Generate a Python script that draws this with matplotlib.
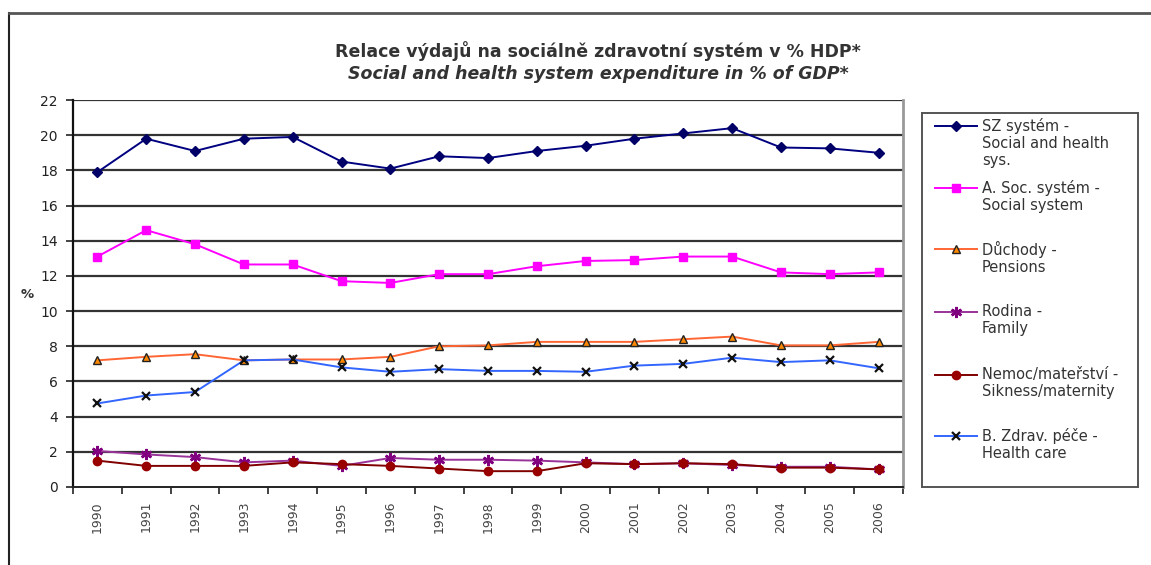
import numpy as np
import matplotlib
matplotlib.use("Agg")
import matplotlib.pyplot as plt
from matplotlib.lines import Line2D

plt.rcParams['font.family'] = ['Liberation Sans', 'DejaVu Sans']

years = ['1990', '1991', '1992', '1993', '1994', '1995', '1996', '1997', '1998',
         '1999', '2000', '2001', '2002', '2003', '2004', '2005', '2006']

sz_system = [17.9, 19.8, 19.1, 19.8, 19.9, 18.5, 18.1, 18.8, 18.7,
             19.1, 19.4, 19.8, 20.1, 20.4, 19.3, 19.25, 19.0]
soc_system = [13.1, 14.6, 13.8, 12.65, 12.65, 11.7, 11.6, 12.1, 12.1,
              12.55, 12.85, 12.9, 13.1, 13.1, 12.2, 12.1, 12.2]
pensions = [7.2, 7.4, 7.55, 7.2, 7.25, 7.25, 7.4, 8.0, 8.05,
            8.25, 8.25, 8.25, 8.4, 8.55, 8.05, 8.05, 8.25]
family = [2.05, 1.85, 1.7, 1.4, 1.5, 1.2, 1.65, 1.55, 1.55,
          1.5, 1.4, 1.3, 1.35, 1.25, 1.15, 1.15, 1.0]
sickness = [1.5, 1.2, 1.2, 1.2, 1.4, 1.3, 1.2, 1.05, 0.9,
            0.9, 1.35, 1.3, 1.35, 1.3, 1.1, 1.1, 1.0]
health = [4.75, 5.2, 5.4, 7.2, 7.25, 6.8, 6.55, 6.7, 6.6,
          6.6, 6.55, 6.9, 7.0, 7.35, 7.1, 7.2, 6.75]

labels = ['SZ systém -\nSocial and health\nsys.',
          'A. Soc. systém -\nSocial system',
          'Důchody -\nPensions',
          'Rodina -\nFamily',
          'Nemoc/mateřství -\nSikness/maternity',
          'B. Zdrav. péče -\nHealth care']

# order of drawing matches legend
series = [sz_system, soc_system, pensions, family, sickness, health]
styles = [
    dict(color='#000080', marker='D', ms=5, mfc='#000066', mec='#000066'),
    dict(color='#FF00FF', marker='s', ms=6, mfc='#FF00FF', mec='#FF00FF'),
    dict(color='#FF6633', marker='^', ms=6, mfc='#FF8800', mec='#222222'),
    dict(color='#993399', marker=(6, 2, 0), ms=8, mfc='#800080', mec='#800080', mew=1.8),
    dict(color='#800000', marker='o', ms=6, mfc='#990000', mec='#990000'),
    dict(color='#3366FF', marker='x', ms=6, mfc='#111111', mec='#111111', mew=1.6),
]

fig = plt.figure(figsize=(11.51, 5.65), dpi=100)
W, H = 1151, 565

# outer frame lines (chart area border)
fig.add_artist(Line2D([9 / W, 9 / W], [0, 1 - 13 / H], color='#222222', lw=1.5))
fig.add_artist(Line2D([9 / W, 1], [1 - 13 / H, 1 - 13 / H], color='#555555', lw=2))

ax = fig.add_axes([73 / W, 1 - 487 / H, 830 / W, 387 / H])
x = np.arange(len(years))
for vals, st in zip(series, styles):
    ax.plot(x, vals, lw=1.4, **st)

ax.set_xlim(-0.5, len(years) - 0.5)
ax.set_ylim(0, 22)
ax.set_yticks(np.arange(0, 23, 2))
ax.set_yticklabels([str(v) for v in range(0, 23, 2)], fontsize=10, color='#222222',
                   family=['DejaVu Sans'])
for yv in range(2, 23, 2):
    ax.axhline(yv, color='#333333', lw=1.6, zorder=0)

ax.set_xticks(np.arange(-0.5, len(years), 1))
ax.set_xticklabels([])
ax.set_xticks(x, minor=True)
ax.set_xticklabels(years, minor=True, rotation=90, fontsize=9, color='#444444',
                   family=['DejaVu Sans'])
ax.tick_params(axis='x', which='minor', length=0, pad=10)
ax.tick_params(axis='x', which='major', length=5, width=1.2, color='#222222')
ax.tick_params(axis='y', length=5, width=1.2, color='#222222', pad=6)

ax.spines['top'].set_visible(False)
ax.spines['left'].set_linewidth(1.6)
ax.spines['left'].set_color('#111111')
ax.spines['bottom'].set_linewidth(1.4)
ax.spines['bottom'].set_color('#222222')
ax.spines['right'].set_linewidth(2)
ax.spines['right'].set_color('#999999')

fig.text(27 / W, 1 - 294 / H, '%', fontsize=9.5, fontweight='bold', color='#333333',
         ha='center', va='center', family=['DejaVu Sans'])

fig.text(598 / W, 1 - 51 / H, 'Relace výdajů na sociálně zdravotní systém v % HDP*',
         fontsize=12.5, fontweight='bold', color='#333333', ha='center', va='center',
         family=['DejaVu Sans'])
fig.text(598 / W, 1 - 74 / H, 'Social and health system expenditure in % of GDP*',
         fontsize=12.5, fontweight='bold', style='italic', color='#333333',
         ha='center', va='center', family=['DejaVu Sans'])

# legend drawn in its own axes (pixel coordinates)
lax = fig.add_axes([922 / W, 1 - 487 / H, 216 / W, 374 / H])
lax.set_xlim(922, 1138)
lax.set_ylim(487, 113)
lax.set_xticks([])
lax.set_yticks([])
for s in lax.spines.values():
    s.set_color('#555555')
    s.set_linewidth(1.4)
entry_y = [126, 188, 249, 312, 375, 436]
for yy, lab, st in zip(entry_y, labels, styles):
    lax.plot([935, 977], [yy, yy], lw=1.4, **{k: v for k, v in st.items() if k != 'marker'},
             marker=None)
    lax.plot([956], [yy], lw=0, **st)
    lax.text(982, yy - 8, lab, fontsize=10.5, color='#333333', va='top', ha='left',
             linespacing=1.15, family=['DejaVu Sans'])

fig.savefig('out.png', dpi=100)
